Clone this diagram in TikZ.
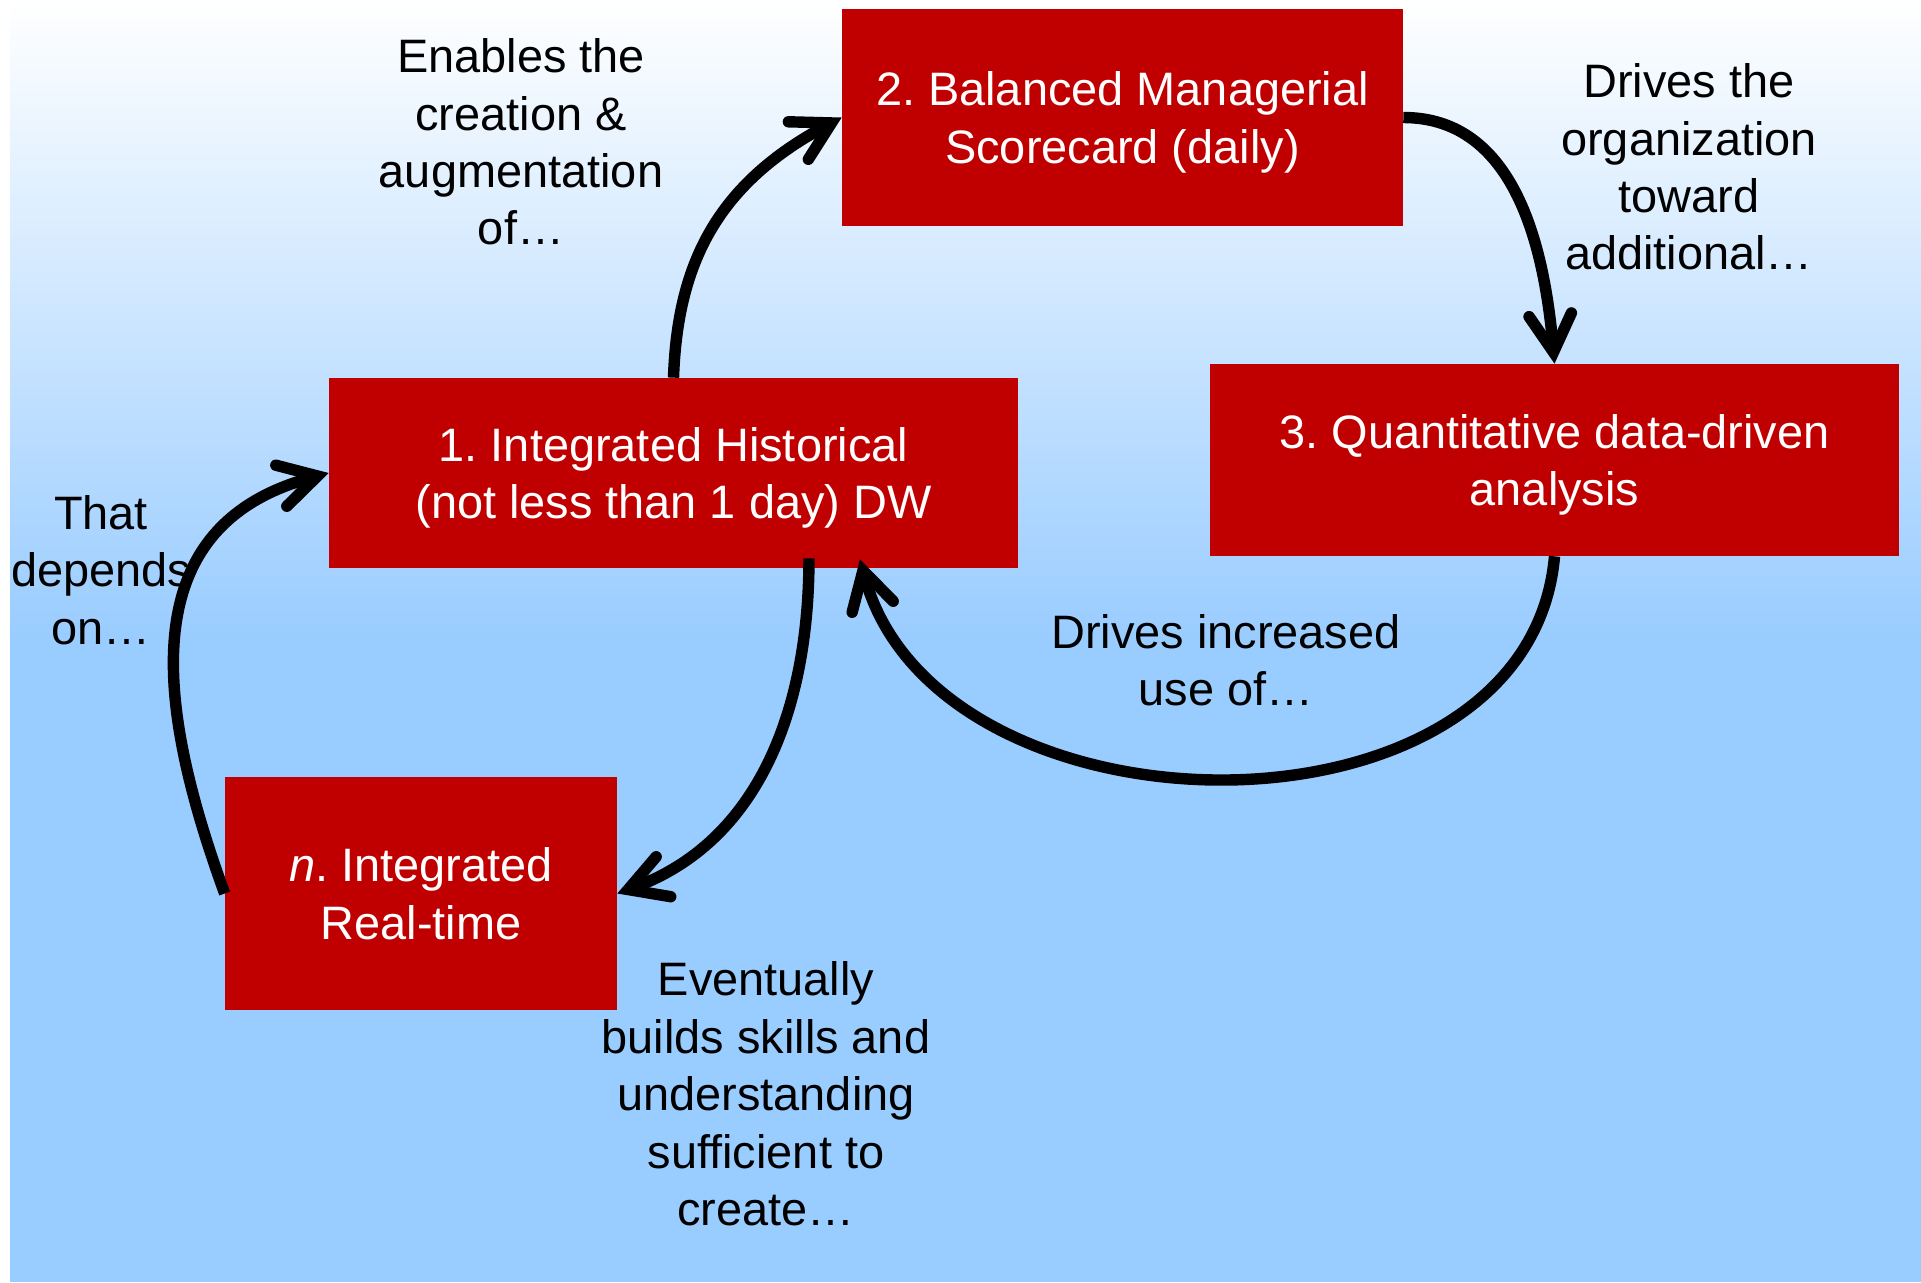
\documentclass[tikz,border=0pt]{standalone}
\usepackage{fontspec}
\setmainfont{Liberation Sans}
\frenchspacing
\usetikzlibrary{arrows.meta,positioning}
\definecolor{stagered}{RGB}{192,0,0}
\definecolor{skyblue}{RGB}{153,204,255}
\tikzset{
    %Define standard arrow tip
    >={Straight Barb[length=0.75cm,width=0.85cm,line cap=round,line join=miter]},
    %Define style for boxes
    stage/.style={
           rectangle,
           fill=stagered,
           text=white,
           inner sep=0pt,
           text depth=0pt,
           font=\fontsize{26.7}{32.7}\selectfont,
           align=center},
    %Define style for labels
    remark/.style={
           inner sep=0pt,
           font=\fontsize{26.7}{32.7}\selectfont,
           align=center},
    % Define arrow style
    pil/.style={
           ->,
           line width=6.5pt}
}

\begin{document}
\begin{tikzpicture}[x=0.02cm,y=0.02cm]
% background
\fill[white] (0,0) rectangle (1921,-1282);
\shade[top color=white, bottom color=skyblue] (10,0) rectangle (1921,-641);
\fill[skyblue] (10,-641) rectangle (1921,-1282);
% stages
\node[stage, minimum width=13.78cm, minimum height=3.8cm] (H) at (673.5,-473) {1. Integrated Historical\\(not less than 1 day) DW};
\node[stage, minimum width=11.22cm, minimum height=4.34cm] (B) at (1122.5,-117.5) {2. Balanced Managerial\\Scorecard (daily)};
\node[stage, minimum width=13.78cm, minimum height=3.84cm] (Q) at (1554.5,-460) {3. Quantitative data-driven\\analysis};
\node[stage, minimum width=7.84cm, minimum height=4.66cm] (R) at (421,-893.5) {\textit{n}. Integrated\\Real-time};
% labels
\node[remark] (enables) at (521,-142) {Enables the\\creation \&\\augmentation\\of…};
\node[remark] (drives) at (1689,-167) {Drives the\\organization\\toward\\additional…};
\node[remark] (increased) at (1226,-660) {Drives increased\\use of…};
\node[remark] (depends) at (101,-570) {That\\depends\\on…};
\node[remark] (eventually) at (766,-1094) {Eventually\\builds skills and\\understanding\\sufficient to\\create…};
% cycle
\path[pil]
	(H.north) edge[out=88, in=208, out looseness=0.9, in looseness=1.2] (B.west)
	(B.east) edge[out=0, in=95] (Q.north)
	(Q.south) edge[out=-95, in=-75, looseness=1.1] ([xshift=3.73cm,yshift=0.18cm]H.south)
	([xshift=2.71cm,yshift=0.2cm]H.south) edge[out=-90, in=20] (R.east)
	(R.west) edge[out=110, in=195, looseness=1.2] (H.west);
\end{tikzpicture}
\end{document}
